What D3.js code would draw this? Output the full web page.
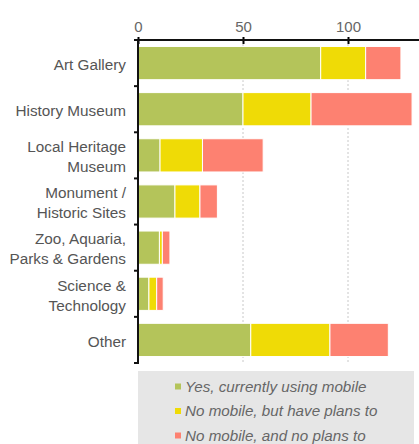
<!DOCTYPE html>
<html><head><meta charset="utf-8">
<script src="https://cdn.jsdelivr.net/npm/d3@7"></script>
<style>body{margin:0;background:#fff;}svg{display:block;}</style>
</head><body>
<svg id="c" width="419" height="444"></svg>
<script>
const categories = [["Art Gallery"],["History Museum"],["Local Heritage","Museum"],["Monument /","Historic Sites"],["Zoo, Aquaria,","Parks & Gardens"],["Science &","Technology"],["Other"]];
const yesMobile = [87, 50, 10.5, 17.6, 10.2, 5.2, 53.7];
const plansTo   = [21.4, 32.4, 20.2, 11.9, 1.4, 3.7, 37.7];
const noPlans   = [16.8, 48.1, 28.9, 8.3, 3.6, 3.1, 27.8];
const seriesNames = ["Yes, currently using mobile","No mobile, but have plans to","No mobile, and no plans to"];
const colors = ["#b4c45a","#efdb06","#fd8171"];
const tickValues = [0, 50, 100];

const svg = d3.select("#c");
const FONT = "Liberation Sans, Arial, sans-serif";
const x = d3.scaleLinear().domain([0, 134]).range([138, 419.4]);
const keys = categories.map(d => d.join(" "));
const y = d3.scaleBand().domain(keys).range([40, 363]).paddingInner(0.28).paddingOuter(0.14);

// grid lines
svg.append("g").selectAll("line").data(tickValues.filter(v => v > 0)).join("line")
  .attr("x1", d => x(d)).attr("x2", d => x(d))
  .attr("y1", 40).attr("y2", 363)
  .attr("stroke", "#c8c8c8").attr("stroke-width", 1).attr("stroke-dasharray", "2,2");

// stacked bars
const rows = keys.map((k, i) => ({k, v: [yesMobile[i], plansTo[i], noPlans[i]]}));
const g = svg.append("g");
rows.forEach(r => {
  let acc = 0;
  r.v.forEach((v, j) => {
    g.append("rect")
      .attr("x", x(acc)).attr("width", x(acc + v) - x(acc))
      .attr("y", y(r.k)).attr("height", y.bandwidth())
      .attr("fill", colors[j]).attr("stroke", "#fff").attr("stroke-width", 1);
    acc += v;
  });
});

// top axis
const xa = svg.append("g").attr("transform", "translate(0,40)")
  .call(d3.axisTop(x).tickValues(tickValues).tickSize(-4).tickPadding(12));
xa.select(".domain").remove();
xa.selectAll(".tick line").attr("stroke", "#000").attr("stroke-width", 2).attr("y1", -3).attr("y2", 4);
xa.selectAll(".tick text").attr("font-family", FONT).attr("font-size", 15).attr("fill", "#666").attr("dy", "0.25em");
svg.append("line").attr("x1", 136).attr("x2", 419).attr("y1", 40).attr("y2", 40).attr("stroke", "#111").attr("stroke-width", 2);

// left axis
svg.append("line").attr("x1", 138).attr("x2", 138).attr("y1", 39).attr("y2", 364).attr("stroke", "#111").attr("stroke-width", 2);
const step = y.step();
const bounds = keys.map(k => y(k) - step * y.paddingInner() / 2).concat([363]);
svg.append("g").selectAll("line").data(bounds).join("line")
  .attr("x1", 134).attr("x2", 138).attr("y1", d => d).attr("y2", d => d)
  .attr("stroke", "#111").attr("stroke-width", 2);

// category labels
const lab = svg.append("g").attr("font-family", FONT).attr("font-size", 15.3).attr("fill", "#555").attr("text-anchor", "end");
categories.forEach((lines, i) => {
  const cy = y(keys[i]) + y.bandwidth() / 2 + 1.5;
  const lh = 20;
  lines.forEach((t, j) => {
    lab.append("text").attr("x", 126)
      .attr("y", cy + (j - (lines.length - 1) / 2) * lh)
      .attr("dy", "0.35em").text(t);
  });
});

// legend
svg.append("rect").attr("x", 138).attr("y", 371).attr("width", 276).attr("height", 80).attr("fill", "#e6e6e6");
const lg = svg.append("g");
seriesNames.forEach((n, i) => {
  const ly = 386.5 + i * 24.5;
  lg.append("rect").attr("x", 175).attr("y", ly - 3).attr("width", 6).attr("height", 6).attr("fill", colors[i]);
  lg.append("text").attr("x", 185).attr("y", ly).attr("dy", "0.35em")
    .attr("font-family", FONT).attr("font-style", "italic")
    .attr("font-size", 15.2).attr("fill", "#666").text(n);
});
</script>
</body></html>
